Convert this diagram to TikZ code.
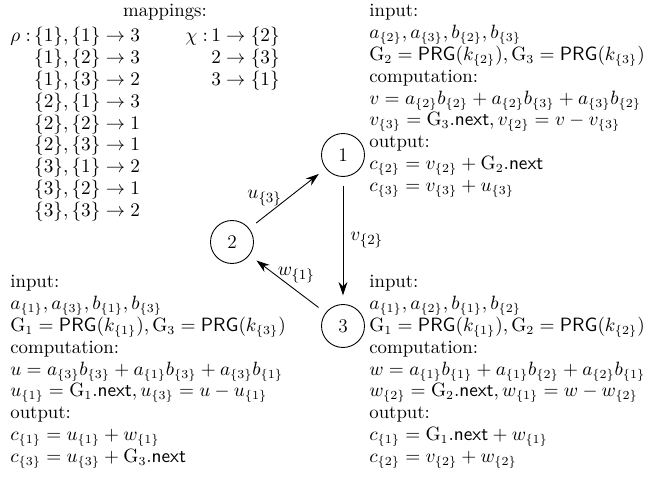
\documentclass[tikz,border=0pt]{standalone}
\usepackage{amsmath,amssymb}
\usetikzlibrary{arrows.meta,positioning}
\tikzset{
  party/.style={circle, draw=black, line width=0.5pt,
                minimum size=0.86cm, inner sep=0pt, font=\fontsize{11}{13}\selectfont},
  txt/.style={inner sep=0pt, anchor=base west, font=\fontsize{10.7}{12.4}\selectfont},
  flow/.style={-{Stealth[length=7.5pt,width=5pt]}, line width=0.5pt,
               shorten <=5pt, shorten >=5pt},
  elbl/.style={font=\fontsize{11}{13}\selectfont, inner sep=3pt}
}

\begin{document}
\begin{tikzpicture}[x=0.02cm, y=-0.02cm]
  \useasboundingbox (0,0) rectangle (654,489);

  % Parties
  \node[party] (p1) at (343,155) {1};
  \node[party] (p2) at (232,242) {2};
  \node[party] (p3) at (343,326) {3};

  % Mappings
  \node[txt, anchor=base] (maptitle) at (165,17) {mappings:};
  \node[txt] (rho) at (10,42)
    {$\begin{array}[t]{@{}l@{\,}l@{}}
      \rho: & \{1\},\{1\}\to 3\\
            & \{1\},\{2\}\to 3\\
            & \{1\},\{3\}\to 2\\
            & \{2\},\{1\}\to 3\\
            & \{2\},\{2\}\to 1\\
            & \{2\},\{3\}\to 1\\
            & \{3\},\{1\}\to 2\\
            & \{3\},\{2\}\to 1\\
            & \{3\},\{3\}\to 2
    \end{array}$};
  \node[txt] (chi) at (185,42)
    {$\begin{array}[t]{@{}l@{\,}l@{}}
      \chi: & 1\to\{2\}\\
            & 2\to\{3\}\\
            & 3\to\{1\}
    \end{array}$};

  % Party 1
  \node[txt] (blk1) at (369,17)
    {\begin{tabular}[t]{@{}l@{}}
      input:\\
      $a_{\{2\}}, a_{\{3\}}, b_{\{2\}}, b_{\{3\}}$\\
      $\mathrm{G}_2=\mathsf{PRG}(k_{\{2\}}), \mathrm{G}_3=\mathsf{PRG}(k_{\{3\}})$\\
      computation:\\
      $v=a_{\{2\}}b_{\{2\}}+a_{\{2\}}b_{\{3\}}+a_{\{3\}}b_{\{2\}}$\\
      $v_{\{3\}}=\mathrm{G}_3.\mathsf{next}, v_{\{2\}}=v-v_{\{3\}}$\\
      output:\\
      $c_{\{2\}}=v_{\{2\}}+\mathrm{G}_2.\mathsf{next}$\\
      $c_{\{3\}}=v_{\{3\}}+u_{\{3\}}$
    \end{tabular}};

  % Party 2
  \node[txt] (blk2) at (10,288)
    {\begin{tabular}[t]{@{}l@{}}
      input:\\
      $a_{\{1\}}, a_{\{3\}}, b_{\{1\}}, b_{\{3\}}$\\
      $\mathrm{G}_1=\mathsf{PRG}(k_{\{1\}}), \mathrm{G}_3=\mathsf{PRG}(k_{\{3\}})$\\
      computation:\\
      $u=a_{\{3\}}b_{\{3\}}+a_{\{1\}}b_{\{3\}}+a_{\{3\}}b_{\{1\}}$\\
      $u_{\{1\}}=\mathrm{G}_1.\mathsf{next}, u_{\{3\}}=u-u_{\{1\}}$\\
      output:\\
      $c_{\{1\}}=u_{\{1\}}+w_{\{1\}}$\\
      $c_{\{3\}}=u_{\{3\}}+\mathrm{G}_3.\mathsf{next}$
    \end{tabular}};

  % Party 3
  \node[txt] (blk3) at (369,288)
    {\begin{tabular}[t]{@{}l@{}}
      input:\\
      $a_{\{1\}}, a_{\{2\}}, b_{\{1\}}, b_{\{2\}}$\\
      $\mathrm{G}_1=\mathsf{PRG}(k_{\{1\}}), \mathrm{G}_2=\mathsf{PRG}(k_{\{2\}})$\\
      computation:\\
      $w=a_{\{1\}}b_{\{1\}}+a_{\{1\}}b_{\{2\}}+a_{\{2\}}b_{\{1\}}$\\
      $w_{\{2\}}=\mathrm{G}_2.\mathsf{next}, w_{\{1\}}=w-w_{\{2\}}$\\
      output:\\
      $c_{\{1\}}=\mathrm{G}_1.\mathsf{next}+w_{\{1\}}$\\
      $c_{\{2\}}=v_{\{2\}}+w_{\{2\}}$
    \end{tabular}};

  % Arrows
  \draw[flow] (p2) -- node[elbl, left] {$u_{\{3\}}$} (p1);
  \draw[flow] (p1) -- node[elbl, right, inner sep=4pt] {$v_{\{2\}}$} (p3);
  \draw[flow] (p3) -- node[elbl, above, inner sep=0.5pt, xshift=5pt] {$w_{\{1\}}$} (p2);
\end{tikzpicture}
\end{document}
